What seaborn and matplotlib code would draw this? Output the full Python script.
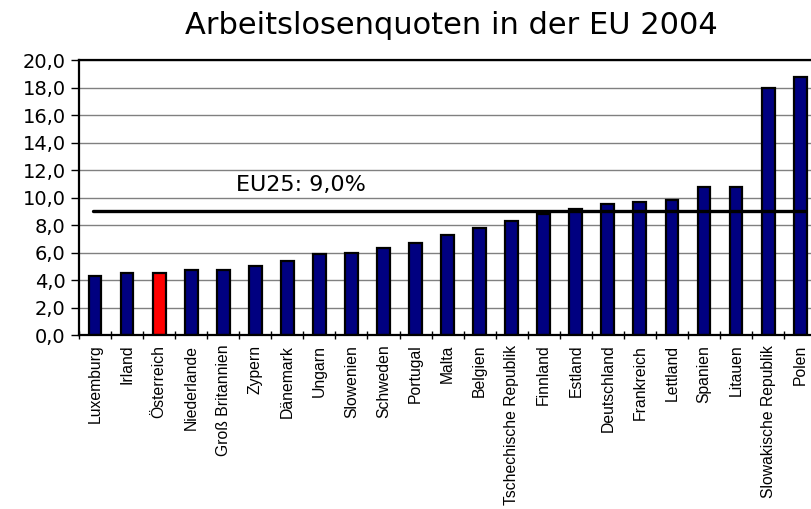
import numpy as np
import pandas as pd
import seaborn as sns
import matplotlib.pyplot as plt
from matplotlib.ticker import FixedLocator

# Arbeitslosenquoten 2004 (in %)
countries = ["Luxemburg", "Irland", "Österreich", "Niederlande", "Groß Britannien",
             "Zypern", "Dänemark", "Ungarn", "Slowenien", "Schweden", "Portugal",
             "Malta", "Belgien", "Tschechische Republik", "Finnland", "Estland",
             "Deutschland", "Frankreich", "Lettland", "Spanien", "Litauen",
             "Slowakische Republik", "Polen"]
rates = [4.3, 4.5, 4.5, 4.7, 4.7, 5.0, 5.4, 5.9, 6.0, 6.3, 6.7,
         7.3, 7.8, 8.3, 8.8, 9.2, 9.5, 9.7, 9.8, 10.8, 10.8, 18.0, 18.8]
eu25 = 9.0
highlight = "Österreich"
y_ticks = [0, 2, 4, 6, 8, 10, 12, 14, 16, 18, 20]

NAVY = "#000080"
RED  = "#FF0000"
WIDE = ["DejaVu Sans"]                      # wide face, close to the stretched original
NARROW = ["Liberation Sans", "DejaVu Sans"]  # for the small rotated labels

sns.set_style("white")
plt.rcParams["font.family"] = WIDE
plt.rcParams["text.color"] = "black"
plt.rcParams["xtick.color"] = "black"
plt.rcParams["ytick.color"] = "black"
plt.rcParams["xtick.labelcolor"] = "black"
plt.rcParams["ytick.labelcolor"] = "black"

df = pd.DataFrame({"land": countries, "quote": rates})
palette = {c: (RED if c == highlight else NAVY) for c in countries}

fig = plt.figure(figsize=(8.11, 5.09), dpi=100)
ax = fig.add_axes([0.0974, 0.3418, 0.909, 0.540])

sns.barplot(data=df, x="land", y="quote", hue="land", palette=palette,
            width=0.4, edgecolor="black", linewidth=1.6, saturation=1,
            legend=False, ax=ax, zorder=2)

# EU25-Durchschnitt
ax.axhline(eu25, xmin=0.019, xmax=0.985, color="black", lw=2.4, zorder=3)
ax.text(6.43, 10.45, f"EU25: {eu25:.1f}%".replace(".", ","),
        ha="center", va="baseline", fontsize=16, color="black", zorder=4)

# ── Achsen ──
ax.set_xlim(-0.5, len(countries) - 0.5)
ax.set_ylim(0, 20)
ax.set_yticks(y_ticks)
ax.set_yticklabels([f"{v:.1f}".replace(".", ",") for v in y_ticks], fontsize=14,
                   color="black")
ax.yaxis.grid(True, color="#808080", lw=1.0, zorder=0)
ax.set_axisbelow(True)

ax.set_xticks(range(len(countries)))
ax.set_xticklabels(countries, rotation=90, fontsize=11.3, ha="center", va="top",
                   family=NARROW, color="black")
ax.xaxis.set_minor_locator(FixedLocator(np.arange(-0.5, len(countries), 1.0)))
ax.tick_params(axis="x", which="major", length=0, pad=7)
ax.tick_params(axis="x", which="minor", direction="inout", length=6,
               width=1.0, color="black", bottom=True)
ax.tick_params(axis="y", which="major", direction="out", length=5.5,
               width=1.0, color="black", left=True, pad=4)

ax.set_xlabel("")
ax.set_ylabel("")
for side in ("left", "bottom", "top"):
    ax.spines[side].set_visible(True)
    ax.spines[side].set_color("black")
    ax.spines[side].set_linewidth(1.6)
ax.spines["right"].set_visible(False)

fig.text(0.557, 0.934, "Arbeitslosenquoten in der EU 2004",
         ha="center", va="baseline", fontsize=22, color="black")

fig.savefig("out.png", dpi=100)
